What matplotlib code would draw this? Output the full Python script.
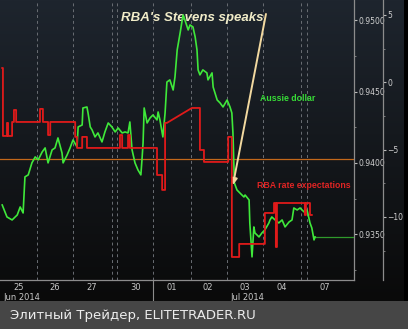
"""Aussie dollar vs RBA rate expectations around Stevens' speech."""

import matplotlib

matplotlib.use("Agg")
import matplotlib.pyplot as plt
import numpy as np
from matplotlib.patches import Rectangle
from matplotlib.ticker import FixedLocator, FormatStrFormatter, MultipleLocator

# time axis in trading-day units (day 25 Jun starts at 0)
aud_t = [0.03, 0.16, 0.30, 0.44, 0.52, 0.60, 0.65, 0.74, 0.84, 0.93,
         1.01, 1.12, 1.20, 1.28, 1.39, 1.47, 1.55, 1.66, 1.69, 1.80,
         1.88, 1.96, 2.07, 2.10, 2.21, 2.23, 2.34, 2.37, 2.43, 2.48,
         2.56, 2.64, 2.75, 2.83, 2.92, 3.02, 3.11, 3.19, 3.30, 3.38,
         3.46, 3.51, 3.57, 3.65, 3.73, 3.81, 3.84, 3.87, 3.90, 3.98,
         4.06, 4.14, 4.25, 4.28, 4.33, 4.41, 4.47, 4.52, 4.60, 4.69,
         4.74, 4.80, 4.88, 4.96, 5.01, 5.10, 5.15, 5.23, 5.29, 5.34,
         5.37, 5.42, 5.50, 5.61, 5.64, 5.75, 5.78, 5.89, 5.97, 6.05,
         6.16, 6.24, 6.29, 6.32, 6.36, 6.43, 6.51, 6.62, 6.65, 6.76,
         6.78, 6.84, 6.89, 6.92, 7.03, 7.11, 7.19, 7.30, 7.33, 7.38,
         7.47, 7.57, 7.66, 7.74, 7.85, 7.93, 7.98, 8.07, 8.15, 8.26,
         8.34, 8.39, 8.42, 8.47, 8.53, 8.56]
aud_px = [0.93705, 0.93621, 0.93600, 0.93635, 0.93691, 0.93649, 0.93902, 0.93916, 0.94000, 0.94042,
          0.94021, 0.94077, 0.94105, 0.94000, 0.94091, 0.94105, 0.94175, 0.94070, 0.94000, 0.94056,
          0.94105, 0.94161, 0.94112, 0.94252, 0.94266, 0.94385, 0.94392, 0.94350, 0.94252, 0.94231,
          0.94182, 0.94210, 0.94147, 0.94217, 0.94280, 0.94252, 0.94217, 0.94245, 0.94210, 0.94217,
          0.94210, 0.94287, 0.94091, 0.94000, 0.93951, 0.93916, 0.94021, 0.94140, 0.94385, 0.94280,
          0.94315, 0.94336, 0.94301, 0.94357, 0.94301, 0.94182, 0.94350, 0.94567, 0.94582, 0.94511,
          0.94603, 0.94792, 0.94911, 0.95037, 0.95002, 0.94932, 0.94967, 0.94953, 0.94883, 0.94792,
          0.94652, 0.94617, 0.94652, 0.94631, 0.94582, 0.94631, 0.94532, 0.94441, 0.94420, 0.94392,
          0.94441, 0.94392, 0.94350, 0.94210, 0.93859, 0.93810, 0.93789, 0.93761, 0.93775, 0.93740,
          0.93579, 0.93341, 0.93551, 0.93509, 0.93481, 0.93509, 0.93530, 0.93579, 0.93600, 0.93621,
          0.93600, 0.93579, 0.93600, 0.93551, 0.93586, 0.93600, 0.93684, 0.93670, 0.93684, 0.93656,
          0.93670, 0.93614, 0.93579, 0.93544, 0.93460, 0.93481]

rba_t = [0.03, 0.05, 0.05, 0.16, 0.16, 0.19, 0.19, 0.30, 0.30, 0.35,
         0.35, 0.41, 0.41, 1.06, 1.06, 1.14, 1.14, 1.28, 1.28, 1.34,
         1.34, 2.02, 2.02, 2.07, 2.07, 2.21, 2.21, 2.34, 2.34, 3.24,
         3.24, 3.30, 3.30, 3.46, 3.46, 3.51, 3.51, 4.25, 4.25, 4.39,
         4.39, 4.47, 4.47, 4.52, 5.20, 5.42, 5.42, 5.53, 5.53, 6.19,
         6.19, 6.29, 6.29, 6.49, 6.49, 7.19, 7.19, 7.44, 7.44, 7.49,
         7.49, 7.52, 7.52, 8.28, 8.28, 8.31, 8.31, 8.42, 8.42, 8.47]
rba_rate = [1.06, 1.06, -3.99, -3.99, -3.02, -3.02, -3.99, -3.99, -2.95, -2.95,
            -2.06, -2.06, -2.95, -2.95, -1.98, -1.98, -2.95, -2.95, -3.92, -3.92,
            -2.95, -2.95, -4.06, -4.06, -4.88, -4.88, -4.06, -4.06, -4.88, -4.88,
            -3.92, -3.92, -4.88, -4.88, -3.92, -3.92, -4.88, -4.88, -6.89, -6.89,
            -8.00, -8.00, -3.02, -3.02, -1.91, -1.91, -5.03, -5.03, -5.92, -5.92,
            -4.06, -4.06, -12.98, -12.98, -12.01, -12.01, -9.71, -9.71, -8.97, -8.97,
            -12.24, -12.24, -8.97, -8.97, -9.86, -9.86, -8.97, -8.97, -9.86, -9.86]

day_breaks = [0.98, 1.96, 3.02, 3.16, 4.14, 5.18, 6.16, 7.14, 8.17, 8.34]
day_pos = [0.49, 1.47, 2.48, 3.68, 4.66, 5.64, 6.65, 7.66, 8.83]
day_labels = ["25", "26", "27", "30", "01", "02", "03", "04", "07"]
month_labels = ["Jun 2014", "Jul 2014"]
month_pos = [0.05, 6.70]
month_break = 4.14
ref_level = 0.94028

price_ticks = [0.9350, 0.9400, 0.9450, 0.9500]
rate_ticks = [-10, -5, 0, 5]

W, H = 408, 329
fig = plt.figure(figsize=(W / 100, H / 100), dpi=100, facecolor="black")

# dark gradient background of the terminal window
bg = fig.add_axes([0, 28 / H, 404 / W, 1 - 28 / H])
grad = np.linspace(0, 1, 256)[:, None]
top = np.array([0x1e, 0x25, 0x2e]) / 255
bot = np.array([0x0a, 0x0a, 0x0a]) / 255
img = top[None, None, :] * (1 - grad[:, :, None]) + bot[None, None, :] * grad[:, :, None]
bg.imshow(img, aspect="auto", extent=[0, 1, 0, 1])
bg.axis("off")

# grey footer band
fig.patches.append(Rectangle((0, 0), 1, 28 / H, transform=fig.transFigure,
                             facecolor="#464646", edgecolor="none", zorder=0))
fig.text(10 / W, 14 / H, "Элитный Трейдер, ELITETRADER.RU", color="#ececec",
         fontsize=9.5, family="DejaVu Sans", va="center", ha="left")

ax = fig.add_axes([0, 49 / H, 354 / W, 1 - 49 / H])
ax.patch.set_alpha(0)
xmin, xmax = -0.03, 9.62
ax.set_xlim(xmin, xmax)
ax.set_ylim(0.93179, 0.95142)
ax2 = ax.twinx()
ax2.set_ylim(-14.69, 6.11)

grey = "#8c8c8c"
for x in day_breaks:
    ax.axvline(x, color="#6a6e74", lw=0.7, ls=(0, (3, 3)), zorder=1)
ax.axhline(ref_level, color="#c2681a", lw=0.9, zorder=2)

ax.plot(aud_t, aud_px, color="#3fe83a", lw=1.2, zorder=4)
ax.plot([aud_t[-1], xmax], [aud_px[-1], aud_px[-1]], color="#2f9a2c", lw=0.9, zorder=3)
ax2.plot(rba_t, rba_rate, color="#e01a1a", lw=1.3, zorder=3)

for s in ["top", "left"]:
    ax.spines[s].set_visible(False)
for s in ["right", "bottom"]:
    ax.spines[s].set_color(grey)
    ax.spines[s].set_linewidth(0.9)

# price axis (right edge of the plot)
ax.yaxis.tick_right()
ax.yaxis.set_major_locator(FixedLocator(price_ticks))
ax.yaxis.set_minor_locator(MultipleLocator(0.0025))
ax.yaxis.set_major_formatter(FormatStrFormatter("%.4f"))
ax.tick_params(axis="y", which="major", length=2.5, width=0.8, color="#bbbbbb",
               labelcolor="#d0d0d0", labelsize=5.5, pad=0.5)
ax.tick_params(axis="y", which="minor", length=1.5, width=0.6, color=grey)

ax.set_xticks(day_pos)
ax.set_xticklabels(day_labels)
ax.tick_params(axis="x", length=0, labelcolor="#c8c8c8", labelsize=6, pad=2)
for name, xp in zip(month_labels, month_pos):
    ax.text(xp, -0.045, name, transform=ax.get_xaxis_transform(), color="#c8c8c8",
            fontsize=6, ha="left" if xp < 1 else "center", va="top")
ax.plot([month_break, month_break], [0, -0.085], transform=ax.get_xaxis_transform(),
        color=grey, lw=0.8, clip_on=False)

# rate expectations axis (offset further right)
for s in ["top", "left", "bottom"]:
    ax2.spines[s].set_visible(False)
ax2.spines["right"].set_position(("axes", 383 / 354))
ax2.spines["right"].set_color(grey)
ax2.spines["right"].set_linewidth(0.9)
ax2.yaxis.set_major_locator(FixedLocator(rate_ticks))
ax2.yaxis.set_minor_locator(MultipleLocator(2.5))
ax2.tick_params(axis="y", which="major", length=2.5, width=0.8, color="#bbbbbb",
                labelcolor="#d0d0d0", labelsize=5.5, pad=0.5)
ax2.tick_params(axis="y", which="minor", length=1.5, width=0.6, color=grey)

# annotations
ax.annotate("", xy=(6.32, 0.93845), xytext=(7.22, 0.95044),
            arrowprops=dict(arrowstyle="-|>", color="#f2d9a0", lw=1.4,
                            mutation_scale=9, shrinkA=0, shrinkB=0), zorder=6)
ax.text(5.2, 0.95015, "RBA's Stevens speaks", color="#f1ecc8", fontsize=9.5,
        family="Liberation Sans", weight="bold", style="italic", ha="center", va="center")
ax.text(7.82, 0.9445, "Aussie dollar", color="#37dc37", fontsize=6.3,
        family="Liberation Sans", weight="bold", ha="center", va="center")
ax.text(8.25, 0.9384, "RBA rate expectations", color="#e02424", fontsize=6.3,
        family="Liberation Sans", weight="bold", ha="center", va="center")

fig.savefig("out.png", dpi=100, facecolor="black")
